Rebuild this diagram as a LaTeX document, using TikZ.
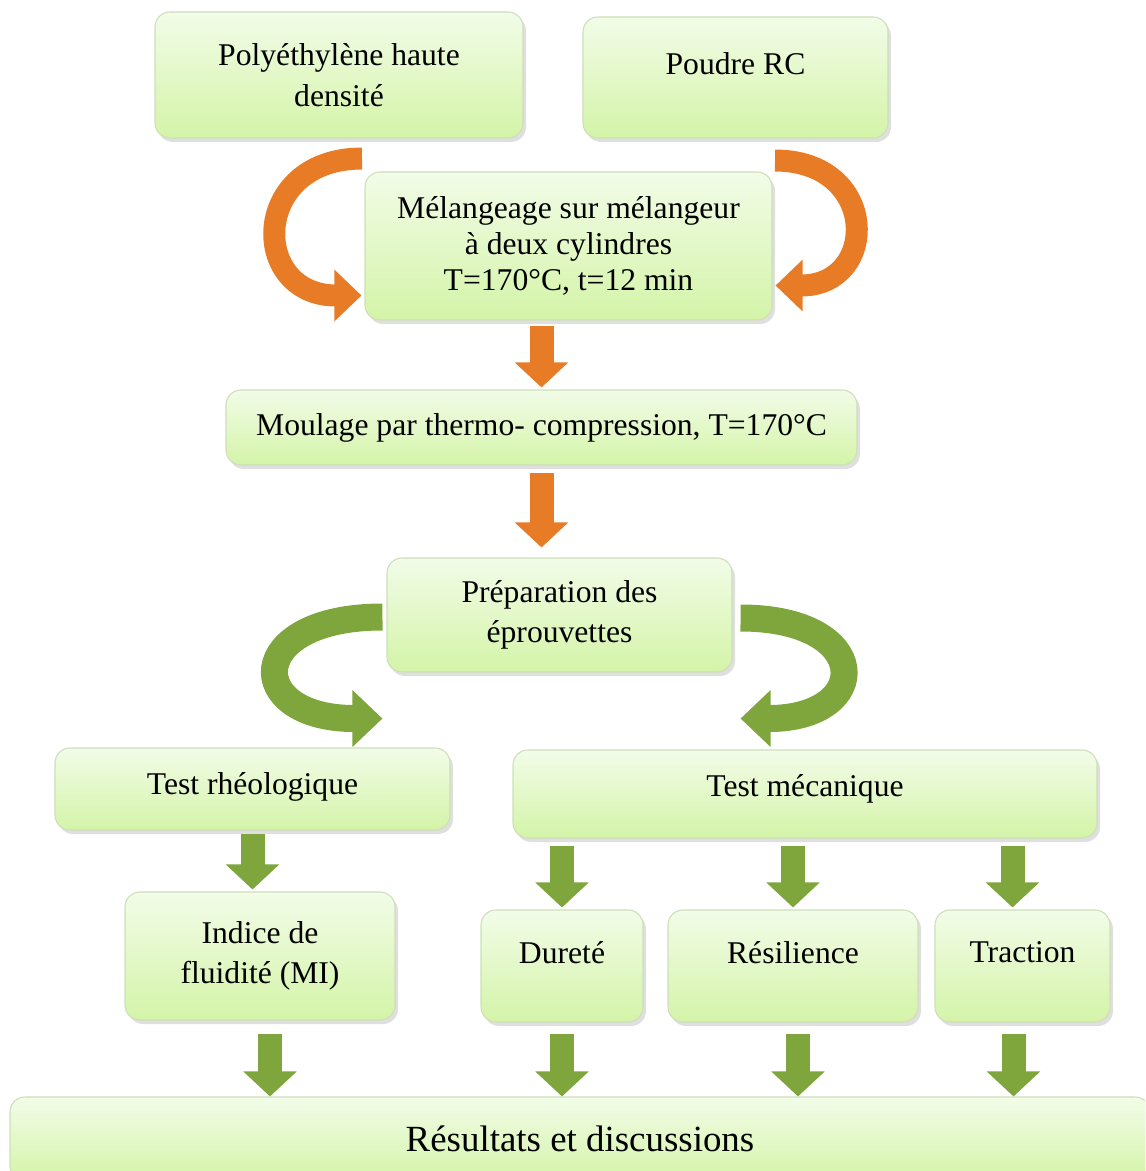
\documentclass[tikz,border=0pt]{standalone}
\usepackage{fontspec}
\setmainfont{Liberation Serif}
\usetikzlibrary{arrows.meta,shadows,calc}
\definecolor{boxtop}{RGB}{242,252,232}
\definecolor{boxbot}{RGB}{212,244,168}
\definecolor{boxline}{RGB}{205,222,185}
\definecolor{orangearr}{RGB}{232,124,38}
\definecolor{greenarr}{RGB}{126,166,60}
\begin{document}
\begin{tikzpicture}[
    box/.style={rounded corners=0.3cm, top color=boxtop, bottom color=boxbot,
      draw=boxline, line width=0.6pt, align=center, inner sep=2pt,
      drop shadow={shadow xshift=0.06cm, shadow yshift=-0.08cm, opacity=0.25},
      font=\fontsize{18}{23}\selectfont},
    oarrow/.style={draw=orangearr, line width=0.48cm, -{Triangle[width=1.04cm,length=0.5cm]}},
    garrow/.style={draw=greenarr, line width=0.48cm, -{Triangle[width=1.04cm,length=0.5cm]}},
    ocurve/.style={draw=orangearr, line width=0.44cm, -{Triangle[width=1.0cm,length=0.54cm]}},
    gcurve/.style={draw=greenarr, line width=0.54cm, -{Triangle[width=1.1cm,length=0.6cm]}}
  ]
  \clip (0,0) rectangle (22.9,-23.42);

  \node[box, minimum width=7.36cm, minimum height=2.52cm] (pehd) at (6.78,-1.50) {Polyéthylène haute\\densité};
  \node[box, minimum width=6.10cm, minimum height=2.42cm, text depth=0.56cm] (poudre) at (14.71,-1.55) {Poudre RC};
  \node[box, minimum width=8.14cm, minimum height=2.96cm, font=\fontsize{18}{20.5}\selectfont] (melange) at (11.37,-4.92) {Mélangeage sur mélangeur\\à deux cylindres\\T=170°C, t=12 min};
  \node[box, minimum width=12.62cm, minimum height=1.50cm] (moulage) at (10.83,-8.55) {Moulage par thermo- compression, T=170°C};
  \node[box, minimum width=6.90cm, minimum height=2.28cm] (prep) at (11.19,-12.30) {Préparation des\\éprouvettes};
  \node[box, minimum width=7.90cm, minimum height=1.64cm, text depth=0.24cm] (rheo) at (5.05,-15.78) {Test rhéologique};
  \node[box, minimum width=11.68cm, minimum height=1.76cm, text depth=0.36cm] (meca) at (16.10,-15.88) {Test mécanique};
  \node[box, minimum width=5.40cm, minimum height=2.56cm] (indice) at (5.20,-19.12) {Indice de\\fluidité (MI)};
  \node[box, minimum width=3.24cm, minimum height=2.24cm, text depth=0.56cm] (durete) at (11.24,-19.32) {Dureté};
  \node[box, minimum width=5.00cm, minimum height=2.24cm, text depth=0.56cm] (resil) at (15.86,-19.32) {Résilience};
  \node[box, minimum width=3.50cm, minimum height=2.24cm, text depth=0.56cm] (traction) at (20.45,-19.32) {Traction};
  \node[box, minimum width=22.80cm, minimum height=1.68cm, font=\fontsize{21}{25}\selectfont] (result) at (11.60,-22.78) {Résultats et discussions};

  % curved arrows
  \coordinate (t1) at ($(pehd.south)+(0.46,-0.40)$);
  \coordinate (h1) at ($(melange.south west)+(-0.06,0.50)$);
  \coordinate (t2) at ($(poudre.south)+(0.79,-0.44)$);
  \coordinate (h2) at ($(melange.south east)+(0.06,0.70)$);
  \coordinate (t3) at ($(prep.west)+(-0.08,-0.04)$);
  \coordinate (h3) at ($(prep.south west)+(-0.08,-0.92)$);
  \coordinate (t4) at ($(prep.east)+(0.16,-0.06)$);
  \coordinate (h4) at ($(prep.south east)+(0.16,-0.92)$);
  \draw[ocurve] (t1) .. controls +(-2.24,0) and +(-2.24,0) .. (h1);
  \draw[ocurve] (t2) .. controls +(2.08,0) and +(2.08,0) .. (h2);
  \draw[gcurve] (t3) .. controls +(-2.78,0) and +(-2.78,0) .. (h3);
  \draw[gcurve] (t4) .. controls +(2.66,0) and +(2.66,0) .. (h4);

  % straight arrows
  \draw[oarrow, shorten <=0.1cm, shorten >=0.04cm] (melange.south -| moulage.north) -- (moulage.north);
  \draw[oarrow, shorten <=0.14cm, shorten >=0.2cm] (moulage.south) -- (moulage.south |- prep.north);
  \draw[garrow, shorten <=0.06cm, shorten >=0.04cm] (rheo.south) -- (rheo.south |- indice.north);
  \draw[garrow, shorten <=0.14cm, shorten >=0.04cm] (meca.south -| durete.north) -- (durete.north);
  \draw[garrow, shorten <=0.14cm, shorten >=0.04cm] (meca.south -| resil.north) -- (resil.north);
  \draw[garrow, shorten <=0.14cm, shorten >=0.04cm] ([xshift=-0.2cm]meca.south -| traction.north) -- ([xshift=-0.2cm]traction.north);
  \draw[garrow, shorten <=0.26cm] ([xshift=0.2cm]indice.south) -- ([xshift=0.2cm]indice.south |- result.north);
  \draw[garrow, shorten <=0.22cm] (durete.south) -- (durete.south |- result.north);
  \draw[garrow, shorten <=0.22cm] ([xshift=0.1cm]resil.south) -- ([xshift=0.1cm]resil.south |- result.north);
  \draw[garrow, shorten <=0.22cm] ([xshift=-0.18cm]traction.south) -- ([xshift=-0.18cm]traction.south |- result.north);
\end{tikzpicture}
\end{document}
